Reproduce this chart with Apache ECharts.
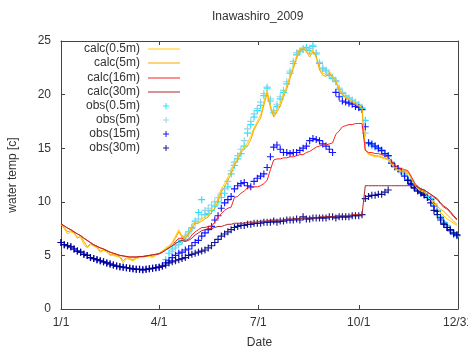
<!DOCTYPE html>
<html>
<head>
<meta charset="utf-8">
<script src="https://cdn.jsdelivr.net/npm/echarts@6/dist/echarts.min.js"></script>
<style>
html,body{margin:0;padding:0;background:#fff;}
#chart{width:468px;height:347px;}
</style>
</head>
<body>
<div id="chart"></div>
<script>
// Day-of-year positions (every 3 days) and tick labels
const dayStep = 3;
const tickDays = [0, 90, 181, 273, 364];
const tickLabels = ['1/1', '4/1', '7/1', '10/1', '12/31'];
const seriesNames = ['calc(0.5m)', 'calc(5m)', 'calc(16m)', 'calc(30m)', 'obs(0.5m)', 'obs(5m)', 'obs(15m)', 'obs(30m)'];

const calc05 = [
7.9,7.5,7.0,7.2,7.1,6.7,6.7,6.0,5.7,6.0,
5.9,5.7,5.3,5.5,5.3,5.1,5.0,4.9,4.8,4.3,
4.7,4.6,4.5,4.7,4.8,4.8,4.9,4.9,4.8,5.0,
5.2,5.4,5.7,5.9,6.2,6.8,7.4,6.8,6.7,7.2,
7.7,8.2,8.1,8.4,8.6,8.8,9.3,9.7,10.3,11.2,
11.7,12.3,12.9,13.6,14.1,14.8,15.1,15.5,16.1,16.9,
17.5,18.1,19.3,20.4,19.0,18.1,18.6,19.2,20.1,20.8,
21.8,22.7,23.6,24.3,24.4,24.1,23.7,24.2,23.4,22.5,
22.0,21.9,22.2,21.7,21.3,20.6,20.1,19.8,19.6,19.4,
19.2,19.0,18.8,14.9,14.4,14.3,14.2,14.2,14.1,14.0,
13.9,13.5,13.1,12.9,12.8,12.8,12.7,12.2,11.6,11.2,
11.0,10.9,10.5,10.2,9.8,9.4,9.0,8.7,8.4,8.2,
8.0,7.8];
const calc5 = [
7.9,7.6,7.2,7.3,7.1,6.6,6.8,6.3,5.8,6.1,
5.9,5.8,5.4,5.5,5.4,5.0,5.1,5.0,4.9,4.5,
4.8,4.7,4.6,4.8,4.8,4.9,4.9,5.0,4.9,5.1,
5.2,5.4,5.6,5.8,6.1,6.6,7.2,6.7,6.6,7.0,
7.5,8.0,8.0,8.2,8.4,8.6,9.0,9.4,10.0,10.9,
11.4,12.0,12.6,13.4,13.9,14.6,14.9,15.2,15.8,16.7,
17.3,17.8,19.0,20.1,18.8,17.9,18.4,18.9,19.8,20.5,
21.5,22.4,23.4,24.1,24.3,24.0,23.5,24.0,23.6,22.3,
21.8,21.7,22.0,21.6,21.2,20.4,20.0,19.7,19.5,19.3,
19.1,18.9,18.7,14.8,14.5,14.4,14.3,14.3,14.2,14.1,
14.0,13.6,13.2,13.0,12.9,12.9,12.8,12.3,11.7,11.3,
11.1,11.0,10.7,10.4,10.0,9.6,9.3,9.1,8.8,8.5,
8.2,7.9];
const calc16 = [
7.95,7.75,7.55,7.4,7.2,7.0,6.85,6.6,6.4,6.2,
6.0,5.85,5.7,5.6,5.45,5.3,5.2,5.1,5.0,4.95,
4.9,4.85,4.85,4.85,4.9,4.9,4.95,5.0,5.05,5.1,
5.15,5.3,5.5,5.7,5.9,6.3,6.6,6.6,6.4,6.5,
6.9,7.2,7.4,7.6,7.6,7.7,7.7,8.1,8.6,8.9,
9.2,9.4,9.5,10.4,10.5,10.8,11.0,11.3,11.3,11.4,
11.4,11.5,11.7,12.0,13.0,13.9,14.0,14.0,14.1,14.1,
14.2,14.2,14.3,14.4,14.4,14.6,14.7,14.9,15.1,15.2,
15.3,15.3,15.4,15.5,16.3,16.6,17.0,17.1,17.2,17.2,
17.3,17.3,17.3,14.8,14.6,14.6,14.5,14.5,14.4,14.3,
14.2,13.8,13.4,13.2,13.1,13.0,12.9,12.4,11.8,11.4,
11.2,11.1,10.9,10.7,10.4,10.2,9.8,9.5,9.3,9.0,
8.6,8.3];
const calc30 = [
7.95,7.75,7.55,7.4,7.2,7.0,6.85,6.6,6.4,6.2,
6.0,5.85,5.7,5.6,5.45,5.3,5.2,5.1,5.0,4.95,
4.9,4.85,4.85,4.85,4.9,4.9,4.95,5.0,5.05,5.1,
5.15,5.3,5.5,5.7,5.9,6.1,6.3,6.4,6.3,6.4,
6.6,6.9,7.1,7.3,7.4,7.5,7.5,7.6,7.7,7.7,
7.8,7.9,7.9,8.0,8.0,8.0,8.0,8.1,8.1,8.1,
8.1,8.2,8.2,8.2,8.3,8.3,8.3,8.3,8.3,8.4,
8.4,8.4,8.4,8.4,8.5,8.5,8.5,8.5,8.5,8.6,
8.6,8.6,8.6,8.6,8.7,8.7,8.7,8.7,8.7,8.8,
8.8,8.8,8.8,11.5,11.5,11.5,11.5,11.5,11.5,11.5,
11.5,11.5,11.5,11.5,11.5,11.5,11.5,11.5,11.5,11.4,
11.2,11.1,10.9,10.7,10.5,10.3,9.9,9.6,9.4,9.1,
8.7,8.4];
const obs05 = [
null,null,null,null,null,null,null,null,null,null,
null,null,null,null,null,null,null,null,null,null,
null,null,null,null,null,null,null,null,null,null,
null,null,4.6,5.2,5.6,5.9,6.2,6.4,6.8,7.2,
7.6,8.2,9.0,10.2,8.8,8.9,9.2,9.6,10.0,10.4,
10.8,11.4,12.6,13.4,14.0,14.5,15.2,16.4,17.2,17.9,
18.5,19.0,19.9,20.6,19.4,18.3,18.9,19.6,20.2,21.0,
22.0,22.9,23.7,24.0,24.2,24.4,24.1,24.5,23.8,22.9,
22.4,22.2,21.8,21.5,21.2,20.5,20.1,19.8,19.6,19.4,
19.2,19.0,18.7,17.6,15.5,15.3,15.2,15.0,14.8,14.5,
14.3,13.7,13.3,13.1,12.9,12.6,12.1,11.9,11.5,11.2,
11.0,10.8,10.5,10.3,9.8,9.2,8.6,8.1,7.8,7.4,
7.1,6.9];
const obs5 = [
null,null,null,null,null,null,null,null,null,null,
null,null,null,null,null,null,null,null,null,null,
null,null,null,null,null,null,null,null,null,null,
null,null,null,null,5.4,5.7,6.0,6.3,6.6,7.0,
7.5,8.0,8.4,8.8,9.2,9.4,9.7,10.0,10.4,10.8,
11.2,11.9,12.9,13.7,14.3,14.9,15.7,16.8,17.5,18.2,
18.7,19.3,20.1,20.7,19.6,18.5,19.1,19.8,20.4,21.2,
22.2,23.1,23.9,24.1,24.3,24.2,24.3,24.6,23.9,23.0,
22.5,22.3,21.9,21.6,21.3,20.6,20.2,19.9,19.7,19.5,
19.3,19.1,18.8,16.4,15.4,15.2,15.1,14.9,14.7,14.4,
14.2,13.6,13.2,13.0,12.8,12.5,12.0,11.8,11.4,11.1,
10.9,10.7,10.4,10.2,9.7,9.1,8.5,8.0,7.7,7.3,
7.0,6.8];
const obs15 = [
6.2,6.0,5.9,5.8,5.6,5.4,5.3,5.1,5.0,4.8,
4.7,4.6,4.5,4.4,4.3,4.2,4.1,4.0,3.95,3.9,
3.85,3.8,3.75,3.7,3.7,3.65,3.7,3.75,3.8,3.85,
3.9,4.0,4.3,4.5,4.8,5.0,5.2,5.3,5.5,5.6,
5.9,6.2,6.4,6.8,7.1,7.4,7.7,8.3,8.7,9.4,
9.9,10.2,10.5,11.2,11.5,11.7,11.8,11.5,11.4,11.9,
12.2,12.4,12.6,13.2,14.2,15.1,15.3,14.9,14.6,14.6,
14.5,14.6,14.6,14.8,15.0,15.2,15.7,15.9,15.8,15.7,
15.4,15.2,14.9,14.6,20.2,19.8,19.4,19.3,19.2,19.1,
18.9,18.8,18.6,17.0,15.5,15.4,15.2,15.0,14.8,14.5,
14.3,13.6,13.3,13.1,12.8,12.4,12.0,11.6,11.3,11.0,
10.8,10.6,10.4,10.2,9.6,9.1,8.5,8.0,7.6,7.3,
7.0,6.9];
const obs30 = [
6.2,6.0,5.9,5.8,5.6,5.4,5.3,5.1,5.0,4.8,
4.7,4.6,4.5,4.4,4.3,4.2,4.1,4.0,3.95,3.9,
3.85,3.8,3.75,3.7,3.7,3.65,3.7,3.75,3.8,3.85,
3.9,4.0,4.1,4.3,4.4,4.5,4.6,4.7,4.8,5.0,
5.1,5.2,5.3,5.4,5.5,5.7,5.9,6.2,6.5,6.8,
7.0,7.2,7.4,7.6,7.7,7.8,7.8,7.9,7.9,8.0,
8.0,8.0,8.1,8.1,8.1,8.2,8.1,8.2,8.2,8.3,
8.3,8.3,8.4,8.3,8.6,8.4,8.4,8.5,8.5,8.5,
8.5,8.5,8.6,8.6,8.5,8.6,8.6,8.6,8.6,8.7,
8.7,8.7,8.8,10.3,10.5,10.6,10.6,10.7,10.7,10.9,
11.1,null,null,null,null,null,12.0,11.7,11.3,11.1,
10.9,10.7,10.4,9.9,9.2,8.8,8.3,7.9,7.6,7.4,
7.1,6.9];

const FONT = 'Liberation Sans';
const TXT = '#333';
const plusPath = 'path://M0,2.5H6V3.5H0Z M2.5,0H3.5V6H2.5Z';
const colors = ['#ffcc00', '#ffa500', '#ff2020', '#b02828', '#00e8ff', '#87ceeb', '#0000ff', '#00008b'];
const values = [calc05, calc5, calc16, calc30, obs05, obs5, obs15, obs30];

function pairs(arr) {
  return arr.map((v, i) => [i * dayStep, v]);
}

const series = values.map((arr, k) => {
  if (k < 4) {
    return {
      name: seriesNames[k], type: 'line', data: pairs(arr), showSymbol: false, symbol: 'none',
      color: colors[k], lineStyle: { width: 1, color: colors[k] }, animation: false,
      xAxisIndex: 0, yAxisIndex: 0
    };
  }
  return {
    name: seriesNames[k], type: 'scatter', data: pairs(arr).filter(p => p[1] != null),
    symbol: plusPath, symbolSize: 7, symbolKeepAspect: true,
    color: colors[k], itemStyle: { color: colors[k], opacity: 0.9 }, animation: false,
    xAxisIndex: 0, yAxisIndex: 0
  };
});

const legendCenters = [49, 63, 78, 92, 106, 120, 134, 148];
const legends = seriesNames.map((n, k) => ({
  data: [{ name: n, icon: k < 4 ? 'rect' : plusPath }],
  right: k < 4 ? 288 : 299,
  top: legendCenters[k] - 7,
  align: 'right',
  orient: 'vertical',
  padding: 0,
  itemWidth: k < 4 ? 32 : 6,
  itemHeight: k < 4 ? 1 : 6,
  selectedMode: false,
  textStyle: { fontFamily: FONT, fontSize: 12, color: TXT, lineHeight: 14, padding: [0, k < 4 ? 3 : 18, 0, 0] }
}));

const axisLineStyle = { color: '#444', width: 1 };
const chart = echarts.init(document.getElementById('chart'), null, { renderer: 'canvas' });
chart.setOption({
  backgroundColor: '#fff',
  animation: false,
  title: {
    text: 'Inawashiro_2009', left: 212, top: 11, padding: 0,
    textStyle: { fontFamily: FONT, fontSize: 12, fontWeight: 'normal', color: TXT }
  },
  legend: legends,
  grid: { left: 61, right: 10, top: 41, bottom: 38, containLabel: false, outerBoundsMode: 'none' },
  xAxis: [{
    type: 'value', min: 0, max: 364, position: 'bottom',
    name: 'Date', nameLocation: 'middle', nameGap: 28,
    nameTextStyle: { fontFamily: FONT, fontSize: 12, color: TXT },
    axisLine: { show: true, lineStyle: axisLineStyle },
    axisTick: { show: true, inside: true, length: 4, customValues: tickDays, lineStyle: axisLineStyle },
    axisLabel: {
      customValues: tickDays, margin: 8, fontFamily: FONT, fontSize: 12, color: TXT,
      hideOverlap: false,
      formatter: v => tickLabels[tickDays.indexOf(v)]
    },
    splitLine: { show: false }
  }, {
    type: 'value', min: 0, max: 364, position: 'top',
    axisLine: { show: true, onZero: false, lineStyle: axisLineStyle },
    axisTick: { show: true, inside: true, length: 4, customValues: tickDays, lineStyle: axisLineStyle },
    axisLabel: { show: false },
    splitLine: { show: false }
  }],
  yAxis: [{
    type: 'value', min: 0, max: 25, interval: 5, position: 'left',
    name: 'water temp [c]', nameLocation: 'middle', nameGap: 42, nameRotate: 90,
    nameTextStyle: { fontFamily: FONT, fontSize: 12, color: TXT },
    axisLine: { show: true, lineStyle: axisLineStyle },
    axisTick: { show: true, inside: true, length: 4, lineStyle: axisLineStyle },
    axisLabel: { margin: 10, fontFamily: FONT, fontSize: 12, color: TXT },
    splitLine: { show: false }
  }, {
    type: 'value', min: 0, max: 25, interval: 5, position: 'right',
    axisLine: { show: true, onZero: false, lineStyle: axisLineStyle },
    axisTick: { show: true, inside: true, length: 4, lineStyle: axisLineStyle },
    axisLabel: { show: false },
    splitLine: { show: false }
  }],
  series: series
});
</script>
</body>
</html>
